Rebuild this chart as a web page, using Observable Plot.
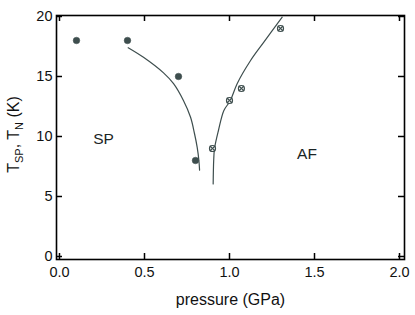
<!DOCTYPE html>
<html>
<head>
<meta charset="utf-8">
<script src="https://cdn.jsdelivr.net/npm/d3@7"></script>
<script src="https://cdn.jsdelivr.net/npm/@observablehq/plot@0.6"></script>
<style>
  html, body { margin: 0; padding: 0; background: #fff; }
  svg { font-family: "Liberation Sans", Arial, sans-serif; }
</style>
</head>
<body>
<div id="chart"></div>
<script>
// SP phase (filled circles)
const spP = [0.1, 0.4, 0.7, 0.8];
const spT = [18, 18, 15, 8];
// AF phase (circled crosses)
const afP = [0.9, 1.0, 1.07, 1.3];
const afT = [9, 13, 14, 19];
// phase boundary curves
const spCurveP = [0.404, 0.494, 0.612, 0.671, 0.729, 0.771, 0.794, 0.81, 0.82, 0.824];
const spCurveT = [17.4, 16.6, 15.3, 14.4, 13.0, 11.6, 10.25, 9.1, 8.0, 7.2];
const afCurveP = [0.904, 0.907, 0.912, 0.935, 0.967, 1.004, 1.045, 1.124, 1.202, 1.31];
const afCurveT = [6.05, 8.0, 9.0, 10.5, 12.17, 12.97, 14.4, 16.33, 17.86, 19.94];
// ticks and labels
const xTicks = [0, 0.5, 1.0, 1.5, 2.0];
const yTicks = [0, 5, 10, 15, 20];
const xLabel = "pressure (GPa)";
const regionLabels = [
  {p: 0.259, T: 9.75, text: "SP"},
  {p: 1.456, T: 8.5, text: "AF"}
];

const sp = spP.map((p, i) => ({p, T: spT[i]}));
const af = afP.map((p, i) => ({p, T: afT[i]}));
const spCurve = spCurveP.map((p, i) => ({p, T: spCurveT[i]}));
const afCurve = afCurveP.map((p, i) => ({p, T: afCurveT[i]}));

const W = 415, H = 315;
const mL = 56, mR = 11, mT = 15, mB = 56;
const innerW = W - mL - mR, innerH = H - mT - mB;
const tk = 6;
const ink = "#3e4e4e";

const plot = Plot.plot({
  width: W, height: H,
  marginLeft: mL, marginRight: mR, marginTop: mT, marginBottom: mB,
  x: {domain: [-0.0176, 2.0294]},
  y: {domain: [-0.25, 20.083]},
  style: {fontFamily: "'Liberation Sans', Arial, sans-serif", background: "#fff"},
  marks: [
    Plot.frame({stroke: "black", strokeWidth: 1.6}),
    Plot.tickX(xTicks, {x: d => d, insetTop: innerH - tk, stroke: "black", strokeWidth: 1.5}),
    Plot.tickX(xTicks, {x: d => d, insetBottom: innerH - tk, stroke: "black", strokeWidth: 1.5}),
    Plot.tickY(yTicks, {y: d => d, insetRight: innerW - tk, stroke: "black", strokeWidth: 1.5}),
    Plot.tickY(yTicks, {y: d => d, insetLeft: innerW - tk, stroke: "black", strokeWidth: 1.5}),
    Plot.axisX(xTicks, {tickSize: 0, tickPadding: 7, tickFormat: d3.format(".1f"), fontSize: 14.5, fill: "#111", label: null}),
    Plot.axisY(yTicks, {tickSize: 0, tickPadding: 4, tickFormat: d => d, fontSize: 14.5, fill: "#111", label: null}),
    Plot.line(spCurve, {x: "p", y: "T", curve: "catmull-rom", stroke: ink, strokeWidth: 1.2}),
    Plot.line(afCurve, {x: "p", y: "T", curve: "catmull-rom", stroke: ink, strokeWidth: 1.2}),
    Plot.dot(sp, {x: "p", y: "T", r: 3.3, fill: ink, stroke: ink, strokeWidth: 0.5}),
    Plot.dot(af, {x: "p", y: "T", r: 3, fill: "white", stroke: ink, strokeWidth: 1.2}),
    Plot.dot(af, {x: "p", y: "T", symbol: "times", r: 2.6, stroke: ink, strokeWidth: 1.1}),
    Plot.text(regionLabels, {x: "p", y: "T", text: "text", fontSize: 15.5, fill: "#1a2424", textAnchor: "middle", lineAnchor: "middle"}),
    Plot.text([xLabel], {frameAnchor: "bottom", dy: 40, text: d => d, fontSize: 16, fill: "#111", lineAnchor: "middle"})
  ]
});

// y-axis title with subscripts
const svg = d3.select(plot);
const yl = svg.append("text")
  .attr("transform", "translate(19,134.5) rotate(-90)")
  .attr("text-anchor", "middle")
  .attr("font-size", 16)
  .attr("fill", "#111");
yl.append("tspan").text("T");
yl.append("tspan").attr("font-size", 11).attr("dy", 4).text("SP");
yl.append("tspan").attr("dy", -4).text(", T");
yl.append("tspan").attr("font-size", 11).attr("dy", 4).text("N");
yl.append("tspan").attr("dy", -4).text(" (K)");

document.getElementById("chart").appendChild(plot);
</script>
</body>
</html>
